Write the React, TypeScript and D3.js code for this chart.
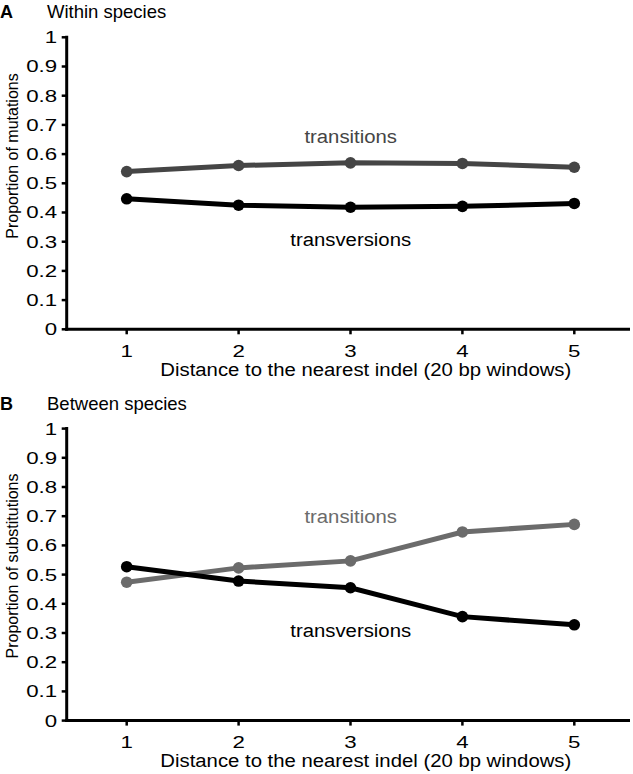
import React from "react";
import * as d3 from "d3";

const distances = [1, 2, 3, 4, 5];
const yTicks = [0, 0.1, 0.2, 0.3, 0.4, 0.5, 0.6, 0.7, 0.8, 0.9, 1];
const withinTransitions = [0.54, 0.561, 0.57, 0.568, 0.555];
const withinTransversions = [0.447, 0.425, 0.418, 0.421, 0.431];
const betweenTransitions = [0.474, 0.523, 0.547, 0.646, 0.672];
const betweenTransversions = [0.527, 0.478, 0.455, 0.356, 0.328];

const FONT = "'Liberation Sans', Arial, Helvetica, sans-serif";

function SText(props: {
  x: number;
  y: number;
  sx?: number;
  size: number;
  anchor?: string;
  fill?: string;
  weight?: string;
  dy?: string;
  children: React.ReactNode;
}) {
  const { x, y, sx = 1, size, anchor = "start", fill = "#000", weight = "normal", dy } = props;
  return (
    <text
      transform={`translate(${x},${y}) scale(${sx},1)`}
      textAnchor={anchor}
      fontFamily={FONT}
      fontSize={size}
      fill={fill}
      fontWeight={weight}
      dy={dy}
    >
      {props.children}
    </text>
  );
}

type PanelProps = {
  letter: string;
  title: string;
  yLabel: string;
  top: number;
  bottom: number;
  ts: number[];
  tv: number[];
  tsColor: string;
  tsLabelY: number;
  tvLabelY: number;
  yLabelCenter: number;
};

function Panel(p: PanelProps) {
  const x = d3.scaleLinear().domain([1, 5]).range([126.7, 574.3]);
  const y = d3.scaleLinear().domain([0, 1]).range([p.bottom, p.top]);
  const axisX = 66.7;
  const line = d3
    .line<number>()
    .x((_, i) => x(distances[i]))
    .y((d) => y(d));
  return (
    <g>
      <SText x={0} y={p.top - 19} size={18} weight="bold">
        {p.letter}
      </SText>
      <SText x={47} y={p.top - 19} size={18.5}>
        {p.title}
      </SText>
      {/* y axis */}
      <line x1={axisX} x2={axisX} y1={y(1) - 1.5} y2={y(0) + 1.5} stroke="#000" strokeWidth={3} />
      {yTicks.map((t) => (
        <g key={t}>
          <line x1={axisX - 5} x2={axisX} y1={y(t)} y2={y(t)} stroke="#000" strokeWidth={2.5} />
          <SText x={axisX - 9.5} y={y(t)} dy="0.36em" anchor="end" size={16.5} sx={1.35}>
            {d3.format("~g")(t)}
          </SText>
        </g>
      ))}
      <text
        transform={`translate(${18},${p.yLabelCenter}) rotate(-90)`}
        textAnchor="middle"
        fontFamily={FONT}
        fontSize={16}
      >
        {p.yLabel}
      </text>
      {/* x axis */}
      <line x1={axisX - 1.5} x2={630} y1={y(0)} y2={y(0)} stroke="#000" strokeWidth={3} />
      {distances.map((d) => (
        <g key={d}>
          <line x1={x(d)} x2={x(d)} y1={y(0)} y2={y(0) + 5} stroke="#000" strokeWidth={2.5} />
          <SText x={x(d)} y={y(0) + 27.5} anchor="middle" size={16.5} sx={1.35}>
            {d}
          </SText>
        </g>
      ))}
      <SText x={365.8} y={y(0) + 46.5} anchor="middle" size={19} sx={1.07}>
        Distance to the nearest indel (20 bp windows)
      </SText>
      {/* series */}
      <path d={line(p.ts) || ""} fill="none" stroke={p.tsColor} strokeWidth={5} />
      {p.ts.map((v, i) => (
        <circle key={"s" + i} cx={x(distances[i])} cy={y(v)} r={5.8} fill={p.tsColor} />
      ))}
      <path d={line(p.tv) || ""} fill="none" stroke="#000" strokeWidth={5} />
      {p.tv.map((v, i) => (
        <circle key={"v" + i} cx={x(distances[i])} cy={y(v)} r={5.8} fill="#000" />
      ))}
      <SText x={350.7} y={p.tsLabelY} anchor="middle" size={19} sx={1.07} fill={p.tsColor}>
        transitions
      </SText>
      <SText x={350.7} y={p.tvLabelY} anchor="middle" size={19} sx={1.07}>
        transversions
      </SText>
    </g>
  );
}

export default function App() {
  return (
    <svg
      width={633}
      height={774}
      style={{ position: "absolute", left: 0, top: 0, background: "#fff" }}
    >
      <Panel
        letter="A"
        title="Within species"
        yLabel="Proportion of mutations"
        top={37.3}
        bottom={329.3}
        ts={withinTransitions}
        tv={withinTransversions}
        tsColor="#454545"
        tsLabelY={143}
        tvLabelY={246}
        yLabelCenter={156}
      />
      <Panel
        letter="B"
        title="Between species"
        yLabel="Proportion of substitutions"
        top={428.6}
        bottom={720.6}
        ts={betweenTransitions}
        tv={betweenTransversions}
        tsColor="#6b6b6b"
        tsLabelY={523}
        tvLabelY={636.7}
        yLabelCenter={566}
      />
    </svg>
  );
}
